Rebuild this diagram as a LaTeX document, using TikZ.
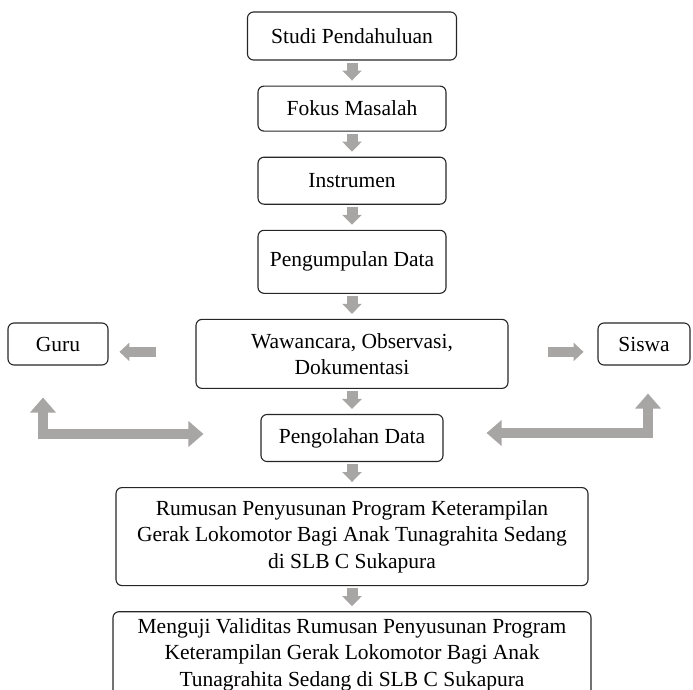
\documentclass[tikz,border=0pt]{standalone}
\usepackage{fontspec}
\setmainfont{Liberation Serif}
\usepackage{tikz}
\usetikzlibrary{arrows.meta,positioning,calc}
\definecolor{flowgray}{RGB}{168,165,165}

\begin{document}
\begin{tikzpicture}[node distance=25pt,
stepbox/.style={
% The shape:
rectangle, rounded corners=6pt,
% The border:
draw=black!85, line width=1.1pt,
% Text
align=center, inner sep=0pt,
font=\fontsize{21.5}{26.5}\selectfont
},
flow/.style={draw=flowgray, line width=11pt,
-{Triangle[width=19pt,length=10pt]},
shorten <=2pt, shorten >=5pt},
sideflow/.style={draw=flowgray, line width=10pt,
-{Triangle[width=18pt,length=10pt]}},
loopflow/.style={draw=flowgray, line width=10pt, line join=miter,
{Triangle[width=25pt,length=15pt]}-{Triangle[width=25pt,length=15pt]}}]

\useasboundingbox (0,0) rectangle (693pt,-690pt);

\node (studi) [stepbox, minimum width=209pt, minimum height=48pt] at (352pt,-36pt) {Studi Pendahuluan};
\node (fokus) [stepbox, minimum width=188pt, minimum height=45pt, below=of studi] {Fokus Masalah};
\node (instr) [stepbox, minimum width=188pt, minimum height=47pt, below=of fokus] {Instrumen};
\node (kumpul) [stepbox, minimum width=188pt, minimum height=63pt, below=of instr] {Pengumpulan Data};
\node (wawa) [stepbox, minimum width=312pt, minimum height=69pt, below=of kumpul] {Wawancara, Observasi,\\Dokumentasi};
\node (olah) [stepbox, minimum width=182pt, minimum height=47pt, below=of wawa] {Pengolahan Data};
\node (rumus) [stepbox, minimum width=472pt, minimum height=98pt, below=of olah] {Rumusan Penyusunan Program Keterampilan\\Gerak Lokomotor Bagi Anak Tunagrahita Sedang\\di SLB C Sukapura};
\node (uji) [stepbox, minimum width=478pt, minimum height=86pt, below=of rumus] {Menguji Validitas Rumusan Penyusunan Program\\Keterampilan Gerak Lokomotor Bagi Anak\\Tunagrahita Sedang di SLB C Sukapura};
\node (guru) [stepbox, minimum width=100pt, minimum height=42pt] at (58pt,-344pt) {Guru};
\node (siswa) [stepbox, minimum width=92pt, minimum height=42pt] at (644pt,-344pt) {Siswa};

\path (studi) edge[flow] (fokus);
\path (fokus) edge[flow] (instr);
\path (instr) edge[flow] (kumpul);
\path (kumpul) edge[flow] (wawa);
\path (wawa) edge[flow] (olah);
\path (olah) edge[flow] (rumus);
\path (rumus) edge[flow] (uji);
\draw [sideflow] (wawa.west) ++(-39pt,2pt) -- ++(-37pt,0);
\draw [sideflow] (wawa.east) ++(39pt,2pt) -- ++(36pt,0);
\draw [loopflow] ([xshift=-15pt,yshift=-32pt]guru.south) |- ([xshift=-57pt,yshift=4pt]olah.west);
\draw [loopflow] ([xshift=43pt,yshift=5pt]olah.east) -| ([xshift=4pt,yshift=-28pt]siswa.south);
\end{tikzpicture}
\end{document}
